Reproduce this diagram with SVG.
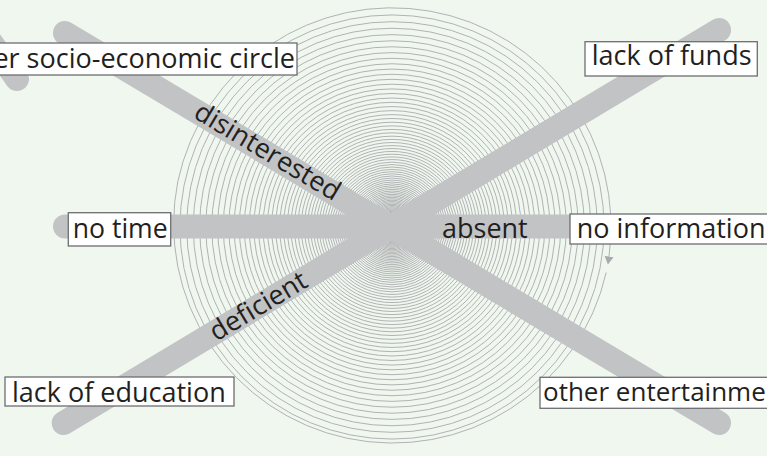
<svg xmlns="http://www.w3.org/2000/svg" width="767" height="456" viewBox="0 0 767 456">
<defs>
<style>
.ring{fill:none;stroke:#a9aaad;stroke-width:0.9}
.bar{stroke:#c2c3c5;stroke-width:24;stroke-linecap:round;fill:none}
.box{fill:#ffffff;stroke:#6d6e71;stroke-width:1.3}
.lbl{font-family:"Open Sans","Noto Sans","Liberation Sans",sans-serif;font-size:27px;fill:#231f20}
</style>
<marker id="ah" viewBox="0 -5 9 10" refX="1" refY="0" markerWidth="9" markerHeight="10" markerUnits="userSpaceOnUse" orient="auto">
<path d="M0,-4.5 L8,0 L0,4.5 Z" fill="#a9aaad"/>
</marker>
</defs>
<rect width="767" height="456" fill="#eff7ef"/>
<g id="spiral">
<path class="ring" d="M606.2,272.5 A219,219 0 0 1 177.8,181.5 A219,219 0 0 1 608.9,257.5" marker-end="url(#ah)"/>
<g transform="translate(392,227)" class="ring">
<circle r="212.05"/><circle r="205.3"/><circle r="198.75"/><circle r="192.39"/><circle r="186.21"/>
<circle r="180.21"/><circle r="174.38"/><circle r="168.72"/><circle r="163.23"/><circle r="157.9"/>
<circle r="152.72"/><circle r="147.69"/><circle r="142.81"/><circle r="138.07"/><circle r="133.47"/>
<circle r="129"/><circle r="124.66"/><circle r="120.44"/><circle r="116.35"/><circle r="112.38"/>
<circle r="108.52"/><circle r="104.77"/><circle r="101.13"/><circle r="97.6"/><circle r="94.17"/>
<circle r="90.84"/><circle r="87.61"/><circle r="84.47"/><circle r="81.42"/><circle r="78.46"/>
<circle r="75.58"/><circle r="72.79"/><circle r="70.08"/><circle r="67.45"/><circle r="64.89"/>
<circle r="62.41"/><circle r="60"/><circle r="57.66"/><circle r="55.39"/><circle r="53.18"/>
<circle r="51.04"/><circle r="48.96"/><circle r="46.94"/><circle r="44.98"/><circle r="43.08"/>
<circle r="41.23"/><circle r="39.43"/><circle r="37.69"/><circle r="36"/><circle r="34.36"/>
<circle r="32.76"/><circle r="31.21"/><circle r="29.7"/><circle r="28.24"/><circle r="26.82"/>
<circle r="25.44"/><circle r="24.1"/><circle r="22.8"/><circle r="21.54"/><circle r="20.31"/>
<circle r="19.12"/><circle r="17.97"/><circle r="16.85"/><circle r="15.76"/><circle r="14.7"/>
<circle r="13.67"/>
</g>
</g>
<g id="connectors">
<line class="bar" x1="-22" y1="24" x2="17" y2="79"/>
<line class="bar" x1="65" y1="33" x2="719" y2="423"/>
<line class="bar" x1="63.7" y1="423" x2="719" y2="30"/>
<line class="bar" x1="65" y1="226.5" x2="720" y2="226.5"/>
<text class="lbl" transform="translate(266.6,153.2) rotate(30.8)" x="0" y="7" text-anchor="middle">disinterested</text>
<text class="lbl" transform="translate(258.3,306.1) rotate(-30.96)" x="0" y="9" text-anchor="middle">deficient</text>
<text class="lbl" x="442" y="237.5">absent</text>
</g>
<g id="node-socio">
<rect class="box" x="-60" y="43" width="357" height="32"/>
<text class="lbl" x="295" y="68" text-anchor="end">other socio-economic circle</text>
</g>
<g id="node-funds">
<rect class="box" x="585" y="41.7" width="172.3" height="34.3"/>
<text class="lbl" x="591.7" y="65">lack of funds</text>
</g>
<g id="node-time">
<rect class="box" x="68.3" y="212.7" width="102.4" height="33.3"/>
<text class="lbl" x="72.7" y="238" style="font-size:26.6px">no time</text>
</g>
<g id="node-information">
<rect class="box" x="570" y="214" width="210" height="30"/>
<text class="lbl" x="576.7" y="237.5">no information</text>
</g>
<g id="node-education">
<rect class="box" x="5" y="377" width="229" height="29"/>
<text class="lbl" x="12" y="402">lack of education</text>
</g>
<g id="node-entertainment">
<rect class="box" x="540" y="377.3" width="280" height="31"/>
<text class="lbl" x="543" y="401" style="font-size:26px">other entertainment</text>
</g>
</svg>
